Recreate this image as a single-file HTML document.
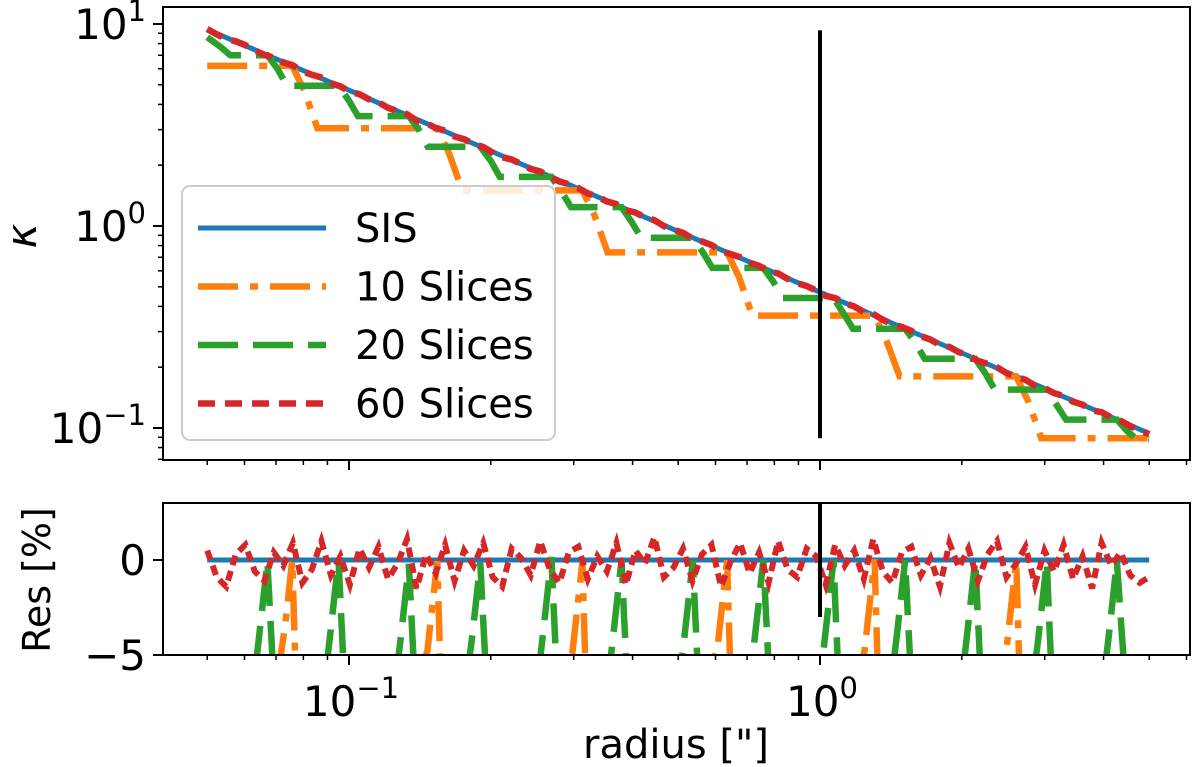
<!DOCTYPE html>
<html><head><meta charset="utf-8"><style>
html,body{margin:0;padding:0;background:#fff}
svg{display:block;font-family:"DejaVu Sans","Liberation Sans",sans-serif}
</style></head><body>
<svg id="chart" width="1200" height="767" viewBox="0 0 1200 767">
<defs>
<clipPath id="clipTop"><rect x="163" y="7" width="1027" height="453"/></clipPath>
<clipPath id="clipBot"><rect x="163" y="503" width="1027" height="152"/></clipPath>
</defs>
<g id="topAxes"></g>
<g id="botAxes"></g>
<g id="legendGroup"></g>
<text x="676" y="758" font-size="40" text-anchor="middle">radius ["]</text>
<text transform="translate(50,580) rotate(-90)" font-size="38" text-anchor="middle">Res [%]</text>
<text transform="translate(36,236) rotate(-90)" font-size="42" font-style="italic" text-anchor="middle">κ</text>
</svg>
<script>
const sisData = [[0.05,9.4],[0.1,4.7],[0.5,0.94],[1,0.47],[2,0.235],[5,0.094]];
const slices10 = [[0.05,6.2],[0.0758,6.2],[0.0803,4.7],[0.0857,3.05],[0.154,3.05],[0.163,2.3],[0.174,1.5],[0.313,1.5],[0.332,1.13],[0.354,0.74],[0.635,0.74],[0.673,0.56],[0.718,0.36],[1.306,0.36],[1.384,0.27],[1.476,0.18],[2.61,0.18],[2.77,0.135],[2.95,0.089],[5.0,0.089]];
const slices20 = [[0.05,8.6],[0.053,7.8],[0.056,7.0],[0.0671,7.0],[0.0705,6.0],[0.0738,4.95],[0.095,4.95],[0.0998,4.2],[0.1045,3.5],[0.134,3.5],[0.141,2.97],[0.147,2.47],[0.190,2.47],[0.2,2.1],[0.209,1.75],[0.269,1.75],[0.282,1.49],[0.296,1.24],[0.379,1.24],[0.398,1.05],[0.417,0.875],[0.537,0.875],[0.564,0.74],[0.591,0.62],[0.758,0.62],[0.796,0.53],[0.834,0.44],[1.068,0.44],[1.121,0.37],[1.175,0.31],[1.516,0.31],[1.592,0.265],[1.668,0.22],[2.136,0.22],[2.243,0.187],[2.35,0.155],[3.03,0.155],[3.18,0.13],[3.33,0.11],[4.27,0.11],[4.48,0.097],[4.7,0.088],[5.0,0.088]];
const slices60Res = [0.5,-0.9,-1.4,0.3,0.8,-0.6,-1.1,0.4,-0.3,0.9,-1.2,-0.5,1.0,-0.8,0.2,-1.3,0.6,-0.4,0.7,-1.0,
-0.2,1.1,-1.5,0.3,-0.7,0.8,-1.1,0.5,-0.3,0.9,-0.9,-1.4,0.6,0.1,-0.8,1.0,-0.5,-1.2,0.4,0.7,
-1.0,0.2,-0.6,0.9,-1.3,0.5,-0.2,1.2,-0.9,-0.4,0.6,-1.1,0.3,0.8,-1.4,-0.1,0.9,-0.7,0.4,-1.2,
1.0,-0.5,-0.9,0.6,0.2,-1.3,0.8,-0.3,0.5,-1.0,1.1,-0.6,-1.2,0.4,0.7,-0.8,0.1,-1.4,0.9,-0.4,
0.6,-1.1,0.3,1.0,-0.9,-0.2,0.7,-1.3,0.5,-0.6,0.8,-1.0,0.2,-1.5,0.9,-0.3,0.4,-0.8,-1.2,-0.9];
const rMin = 0.05, rMax = 5;
const markerRadius = 1.0;
const xTickVals = [0.1, 1];
const xTickLabels = [["10","−1"],["10","0"]];
const yTopTickVals = [10, 1, 0.1];
const yTopTickLabels = [["10","1"],["10","0"],["10","−1"]];
const yBotTickVals = [0, -5];
const yBotTickLabels = ["0","−5"];

const NS = "http://www.w3.org/2000/svg";
const AX_L = 163, AX_R = 1190;
const X0 = 820, DEC = 471;
const xs = r => X0 + DEC * Math.log10(r);
const yT = k => 226 - 202 * Math.log10(k);
const yB = v => 560 - 19 * v;
const COL = {blue:"#1f77b4", orange:"#ff7f0e", green:"#2ca02c", red:"#d62728"};
function mk(tag, attrs, parent){const e=document.createElementNS(NS,tag);for(const k in attrs)e.setAttribute(k,attrs[k]);parent.appendChild(e);return e;}
function sisAt(r){
  const lr=Math.log10(r);
  for(let i=0;i<sisData.length-1;i++){
    const a=sisData[i],b=sisData[i+1];
    if(r<=b[0]||i===sisData.length-2){
      const t=(lr-Math.log10(a[0]))/(Math.log10(b[0])-Math.log10(a[0]));
      return Math.pow(10,Math.log10(a[1])+t*(Math.log10(b[1])-Math.log10(a[1])));
    }
  }
}
function resample(pts){
  const out=[];
  for(let i=0;i<pts.length-1;i++){
    const a=pts[i],b=pts[i+1];
    for(let j=0;j<12;j++){const t=j/12;
      const lr=Math.log10(a[0])+t*(Math.log10(b[0])-Math.log10(a[0]));
      const lk=Math.log10(a[1])+t*(Math.log10(b[1])-Math.log10(a[1]));
      out.push([Math.pow(10,lr),Math.pow(10,lk)]);}
  }
  out.push(pts[pts.length-1]);return out;
}
const redR = slices60Res.map((v,i)=>rMin*Math.pow(rMax/rMin,i/(slices60Res.length-1)));
const slices60 = redR.map((r,i)=>[r, sisAt(r)*(1+slices60Res[i]/100)]);

const gTopAxes=document.getElementById('topAxes'), gBotAxes=document.getElementById('botAxes'), gLegend=document.getElementById('legendGroup');
const styles = {
  sis:{stroke:COL.blue,w:5,dash:""},
  s10:{stroke:COL.orange,w:6.5,dash:"40 12 8 12"},
  s20:{stroke:COL.green,w:6.5,dash:"40 15"},
  s60:{stroke:COL.red,w:6.5,dash:"17 10"}
};
function pathD(pts,fy){return pts.map((p,i)=>(i?"L":"M")+xs(p[0]).toFixed(1)+" "+fy(p[1]).toFixed(1)).join(" ");}

const gTop=mk('g',{'clip-path':'url(#clipTop)'},gTopAxes);
let e;
e=mk('path',{d:pathD(sisData,yT),fill:'none',stroke:styles.sis.stroke,'stroke-width':styles.sis.w},gTop);


e=mk('path',{d:pathD(slices10,yT),fill:'none',stroke:styles.s10.stroke,'stroke-width':styles.s10.w,'stroke-dasharray':styles.s10.dash},gTop);


e=mk('path',{d:pathD(slices20,yT),fill:'none',stroke:styles.s20.stroke,'stroke-width':styles.s20.w,'stroke-dasharray':styles.s20.dash},gTop);


e=mk('path',{d:pathD(slices60,yT),fill:'none',stroke:styles.s60.stroke,'stroke-width':styles.s60.w,'stroke-dasharray':styles.s60.dash},gTop);


e=mk('line',{x1:xs(markerRadius),x2:xs(markerRadius),y1:yT(9.3),y2:yT(0.089),stroke:'#000','stroke-width':4},gTop);



const gBot=mk('g',{'clip-path':'url(#clipBot)'},gBotAxes);
const res = pts => resample(pts).map(p=>[p[0],(p[1]/sisAt(p[0])-1)*100]).map(p=>[p[0],Math.max(p[1],-6)]);
e=mk('path',{d:pathD(sisData.map(p=>[p[0],0]),yB),fill:'none',stroke:COL.blue,'stroke-width':5},gBot);


e=mk('path',{d:pathD(res(slices10),yB),fill:'none',stroke:COL.orange,'stroke-width':6.5,'stroke-dasharray':styles.s10.dash},gBot);


e=mk('path',{d:pathD(res(slices20),yB),fill:'none',stroke:COL.green,'stroke-width':6.5,'stroke-dasharray':styles.s20.dash},gBot);


e=mk('path',{d:pathD(redR.map((r,i)=>[r,slices60Res[i]]),yB),fill:'none',stroke:COL.red,'stroke-width':6,'stroke-dasharray':'10 6'},gBot);


e=mk('line',{x1:xs(markerRadius),x2:xs(markerRadius),y1:yB(3),y2:yB(-3),stroke:'#000','stroke-width':4},gBot);



e=mk('rect',{x:AX_L,y:7,width:AX_R-AX_L,height:453,fill:'none',stroke:'#000','stroke-width':2},gTopAxes);


e=mk('rect',{x:AX_L,y:503,width:AX_R-AX_L,height:152,fill:'none',stroke:'#000','stroke-width':2},gBotAxes);



function xTicks(yAxis,parent){
  for(let d=-2;d<=0;d++)for(let m=1;m<=9;m++){
    const v=m*Math.pow(10,d),px=xs(v);
    if(px<AX_L-1||px>AX_R+1)continue;
    const major=m===1;
    const t=mk('line',{x1:px,x2:px,y1:yAxis,y2:yAxis+(major?10:5),stroke:'#000','stroke-width':major?2:1.5},parent);
    
    
  }
}
xTicks(460,gTopAxes); xTicks(655,gBotAxes);
xTickVals.forEach((v,i)=>{
  const t=mk('text',{x:xs(v)+2,y:716,'font-size':42,'text-anchor':'middle'},gBotAxes);
  
  
  t.textContent=xTickLabels[i][0];
  const s=mk('tspan',{dy:-18,'font-size':29},t); s.textContent=xTickLabels[i][1];
});
for(let d=-2;d<=1;d++)for(let m=1;m<=9;m++){
  const v=m*Math.pow(10,d),py=yT(v);
  if(py<6||py>461)continue;
  const major=m===1;
  const t=mk('line',{x1:AX_L-(major?10:5),x2:AX_L,y1:py,y2:py,stroke:'#000','stroke-width':major?2:1.5},gTopAxes);
  
  
}
yTopTickVals.forEach((v,i)=>{
  const sup=yTopTickLabels[i][1];
  const t=mk('text',{x:146,y:yT(v)+15,'font-size':42,'text-anchor':'end'},gTopAxes);
  
  
  t.textContent=yTopTickLabels[i][0];
  const s=mk('tspan',{dy:-18,'font-size':29},t); s.textContent=sup;
});
yBotTickVals.forEach((v,i)=>{
  const t=mk('line',{x1:AX_L-10,x2:AX_L,y1:yB(v),y2:yB(v),stroke:'#000','stroke-width':2},gBotAxes);
  
  
  const l=mk('text',{x:146,y:yB(v)+15,'font-size':42,'text-anchor':'end'},gBotAxes);
  
  
  l.textContent=yBotTickLabels[i];
});

e=mk('rect',{x:182,y:186,width:373,height:254,rx:8,fill:'#fff','fill-opacity':0.85,stroke:'#ccc','stroke-width':2},gLegend);


const legendLabels=["SIS","10 Slices","20 Slices","60 Slices"];
const legendKeys=["sis","s10","s20","s60"];
legendLabels.forEach((lab,i)=>{
  const cy=228+58.5*i, st=styles[legendKeys[i]];
  const g=mk('g',{},gLegend);
  
  
  mk('line',{x1:198,x2:326,y1:cy,y2:cy,stroke:st.stroke,'stroke-width':st.w,'stroke-dasharray':st.dash},g);
  const t=mk('text',{x:355,y:cy+14,'font-size':40},g); t.textContent=lab;
});
</script>
</body></html>
